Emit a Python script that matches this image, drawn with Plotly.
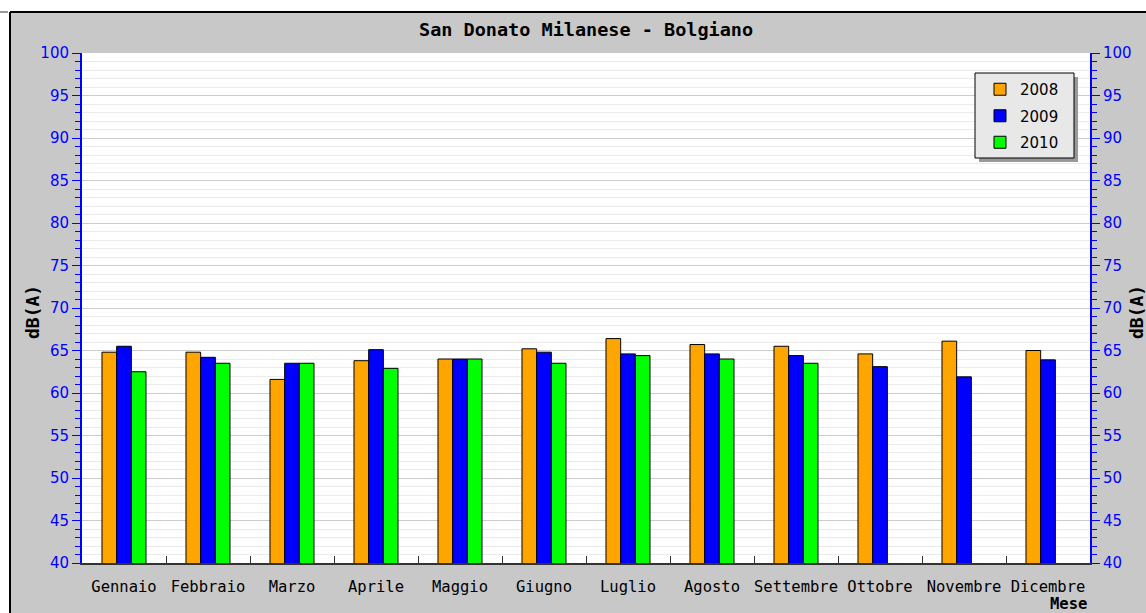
import plotly.graph_objects as go

months = ["Gennaio", "Febbraio", "Marzo", "Aprile", "Maggio", "Giugno",
          "Luglio", "Agosto", "Settembre", "Ottobre", "Novembre", "Dicembre"]
v2008 = [64.8, 64.8, 61.6, 63.8, 64.0, 65.2, 66.4, 65.7, 65.5, 64.6, 66.1, 65.0]
v2009 = [65.5, 64.2, 63.5, 65.1, 64.0, 64.8, 64.6, 64.6, 64.4, 63.1, 61.9, 63.9]
v2010 = [62.5, 63.5, 63.5, 62.9, 64.0, 63.5, 64.4, 64.0, 63.5, None, None, None]

series = [("2008", v2008, "#ffa500"), ("2009", v2009, "#0000ff"), ("2010", v2010, "#00ff00")]

W, H = 1146, 613
L, R, T, B = 82, 1090, 53, 563
pw, ph = R - L, B - T

def px(x):
    return (x - L) / pw

def py(y):
    return (B - y) / ph

fig = go.Figure()
for name, vals, col in series:
    fig.add_trace(go.Bar(x=months, y=vals, name=name, legendgroup=name,
                         marker=dict(color=col, line=dict(color="#000000", width=1))))
# dummy trace for right axis
fig.add_trace(go.Scatter(x=[months[0]], y=[None], yaxis="y2", showlegend=False,
                         hoverinfo="skip", mode="markers"))

yaxis_common = dict(
    range=[40, 100], tick0=40, dtick=5, ticks="outside", ticklen=8, tickwidth=1,
    tickcolor="#0000ff", showline=True, linecolor="#0000ff", linewidth=2,
    tickfont=dict(family="DejaVu Sans", size=15, color="#0000ff"),
    zeroline=False, fixedrange=True,
)

fig.update_layout(
    width=W, height=H, autosize=False,
    margin=dict(l=L, r=W - R, t=T, b=H - B, pad=0, autoexpand=False),
    paper_bgcolor="#c8c8c8", plot_bgcolor="#ffffff",
    barmode="group", bargap=0.476, bargroupgap=0,
    showlegend=True,
    legend=dict(x=px(980), y=py(73), xanchor="left", yanchor="top",
                bgcolor="rgba(0,0,0,0)", borderwidth=0,
                font=dict(family="DejaVu Sans", size=15, color="#000000"),
                traceorder="grouped", tracegroupgap=4),
    xaxis=dict(type="category", range=[-0.5, 11.5], showline=True, linecolor="#333333",
               linewidth=2, ticks="inside", tickson="boundaries", ticklen=7,
               tickcolor="#333333", tickangle=0, automargin=False,
               tickfont=dict(family="DejaVu Sans Mono", size=15.5, color="#000000"),
               ticklabelstandoff=8, showgrid=False, fixedrange=True),
    yaxis=dict(**yaxis_common, showgrid=True, gridcolor="#cccccc", gridwidth=1,
               automargin=False,
               minor=dict(dtick=1, ticks="outside", ticklen=5, tickcolor="#0000ff",
                          showgrid=True, gridcolor="#ebebeb", gridwidth=1)),
    yaxis2=dict(**yaxis_common, overlaying="y", side="right", anchor="x", showgrid=False,
                automargin=False,
                minor=dict(dtick=1, ticks="outside", ticklen=5, tickcolor="#0000ff",
                           showgrid=False)),
)

shapes = [
    # white margins outside frame
    dict(type="rect", xref="paper", yref="paper", x0=-0.2, x1=1.2, y0=py(12), y1=1.3,
         fillcolor="#ffffff", line=dict(width=0), layer="below"),
    dict(type="rect", xref="paper", yref="paper", x0=-0.2, x1=px(10), y0=-0.3, y1=1.3,
         fillcolor="#ffffff", line=dict(width=0), layer="below"),
    # frame lines
    dict(type="line", xref="paper", yref="paper", x0=px(10), x1=1.2, y0=py(12), y1=py(12),
         line=dict(color="#000000", width=2), layer="below"),
    dict(type="line", xref="paper", yref="paper", x0=px(10), x1=px(10), y0=-0.3, y1=py(12),
         line=dict(color="#000000", width=2), layer="below"),
    dict(type="line", xref="paper", yref="paper", x0=px(0), x1=px(8), y0=py(12), y1=py(12),
         line=dict(color="#999999", width=2), layer="below"),
    # legend shadow and box
    dict(type="rect", xref="paper", yref="paper", x0=px(979), x1=px(1078), y0=py(162), y1=py(77),
         fillcolor="#999999", line=dict(width=0), layer="above"),
    dict(type="rect", xref="paper", yref="paper", x0=px(975), x1=px(1074), y0=py(158), y1=py(73),
         fillcolor="#e8e8e8", line=dict(color="#000000", width=1), layer="above"),
]
fig.update_layout(shapes=shapes)

annotations = [
    dict(text="<b>San Donato Milanese - Bolgiano</b>", xref="paper", yref="paper",
         x=0.5, y=py(30), xanchor="center", yanchor="middle", showarrow=False,
         font=dict(family="DejaVu Sans Mono", size=18.5, color="#000000")),
    dict(text="<b>dB(A)</b>", xref="paper", yref="paper", x=px(32), y=py(312),
         xanchor="center", yanchor="middle", textangle=-90, showarrow=False,
         font=dict(family="DejaVu Sans Mono", size=18, color="#000000")),
    dict(text="<b>dB(A)</b>", xref="paper", yref="paper", x=px(1136), y=py(312),
         xanchor="center", yanchor="middle", textangle=-90, showarrow=False,
         font=dict(family="DejaVu Sans Mono", size=18, color="#000000")),
    dict(text="<b>Mese</b>", xref="paper", yref="paper", x=px(1089), y=py(604),
         xanchor="right", yanchor="middle", showarrow=False,
         font=dict(family="DejaVu Sans Mono", size=15.5, color="#000000")),
]
fig.update_layout(annotations=annotations)

fig.write_html("out.html", config={"displayModeBar": False},
               post_script="document.body.style.margin='0';document.body.style.padding='0';")
